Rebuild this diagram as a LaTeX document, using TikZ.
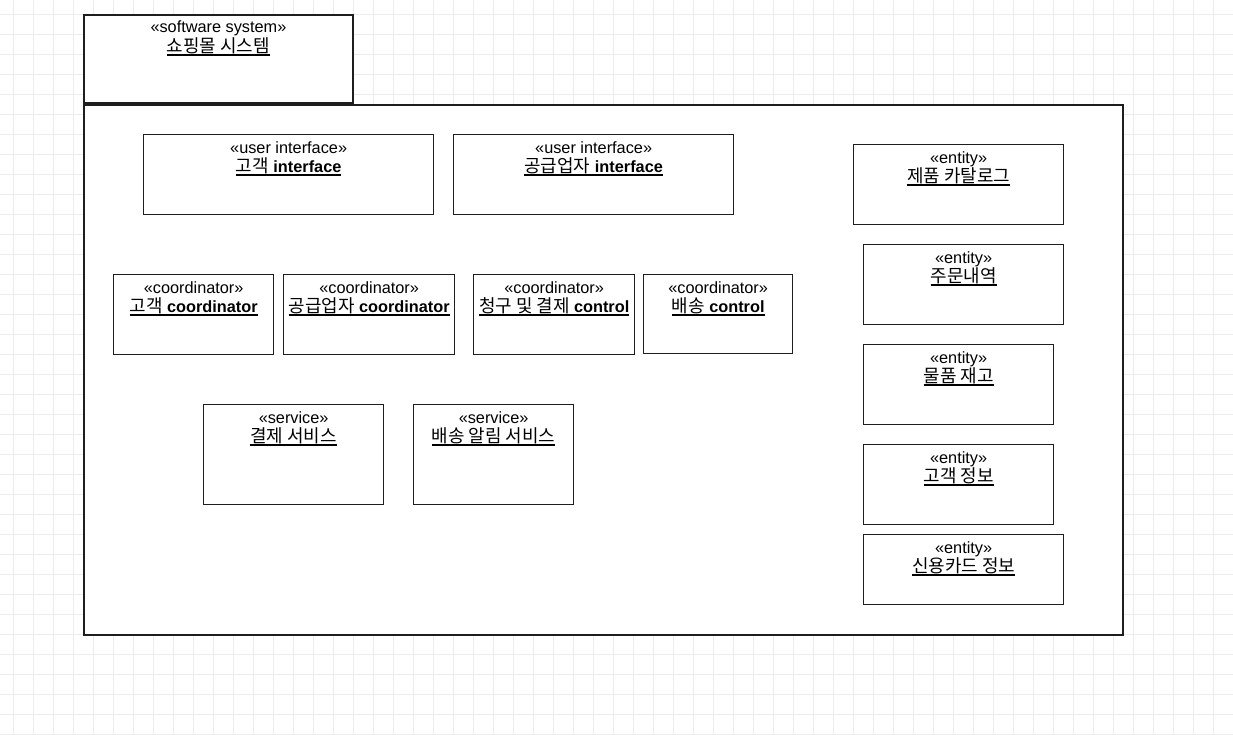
\documentclass[tikz,border=0pt]{standalone}
\usepackage{fontspec}
\setmainfont{Liberation Sans}
\newfontfamily\kr[Scale=1.1]{Noto Sans CJK KR}
\definecolor{gridgray}{RGB}{236,236,236}
\definecolor{boxline}{RGB}{30,30,30}
\newcommand{\ulname}[1]{\setbox0\hbox{#1}\rlap{\copy0}\rule[-3.5pt]{\wd0}{1.3pt}}

\begin{document}
\begin{tikzpicture}[x=1pt, y=-1pt,
  system box/.style={draw=boxline, fill=white, line width=1.9pt, anchor=north west, inner sep=0pt},
  part box/.style={draw=boxline, fill=white, line width=1.3pt, anchor=north west, inner sep=0pt, minimum height=80pt},
  stereo text/.style={anchor=base, inner sep=0pt, font=\fontsize{16.3}{18}\selectfont},
  title text/.style={anchor=base, inner sep=0pt, font=\fontsize{16.3}{18}\selectfont}]
\useasboundingbox (0,0) rectangle (1233,734);

% grid
\foreach \gx in {13,33,...,1233} {\draw[gridgray, line width=1pt] (\gx,0) -- (\gx,734);}
\foreach \gy in {14,34,...,734} {\draw[gridgray, line width=1pt] (0,\gy) -- (1233,\gy);}

% software system
\node[system box, minimum width=269pt, minimum height=88pt] (systab) at (83,14) {};
\node[stereo text] (systab s) at ([yshift=-18.5pt]systab.north) {«software system»};
\node[title text] (systab t) at ([yshift=-38pt]systab.north) {\ulname{\kr 쇼핑몰 시스템}};

\node[system box, minimum width=1039pt, minimum height=530pt] (sys) at (83,104) {};

% user interfaces
\node[part box, minimum width=290pt] (custui) at (143,134) {};
\node[stereo text] (custui s) at ([yshift=-19.5pt]custui.north) {«user interface»};
\node[title text] (custui t) at ([yshift=-38pt]custui.north) {\ulname{{\kr 고객} \textbf{interface}}};

\node[part box, minimum width=280pt] (supui) at (453,134) {};
\node[stereo text] (supui s) at ([yshift=-19.5pt]supui.north) {«user interface»};
\node[title text] (supui t) at ([yshift=-38pt]supui.north) {\ulname{{\kr 공급업자} \textbf{interface}}};

% coordinators
\node[part box, minimum width=160pt] (custco) at (113,274) {};
\node[stereo text] (custco s) at ([yshift=-19.5pt]custco.north) {«coordinator»};
\node[title text] (custco t) at ([yshift=-38pt]custco.north) {\ulname{{\kr 고객} \textbf{coordinator}}};

\node[part box, minimum width=171pt] (supco) at (283,274) {};
\node[stereo text] (supco s) at ([yshift=-19.5pt]supco.north) {«coordinator»};
\node[title text] (supco t) at ([yshift=-38pt]supco.north) {\ulname{{\kr 공급업자} \textbf{coordinator}}};

\node[part box, minimum width=161pt] (billing) at (473,274) {};
\node[stereo text] (billing s) at ([yshift=-19.5pt]billing.north) {«coordinator»};
\node[title text] (billing t) at ([yshift=-38pt]billing.north) {\ulname{{\kr 청구 및 결제} \textbf{control}}};

\node[part box, minimum width=149pt, minimum height=79pt] (delivery) at (643,274) {};
\node[stereo text] (delivery s) at ([yshift=-19.5pt]delivery.north) {«coordinator»};
\node[title text] (delivery t) at ([yshift=-38pt]delivery.north) {\ulname{{\kr 배송} \textbf{control}}};

% services
\node[part box, minimum width=180pt, minimum height=100pt] (payment) at (203,404) {};
\node[stereo text] (payment s) at ([yshift=-19.5pt]payment.north) {«service»};
\node[title text] (payment t) at ([yshift=-38pt]payment.north) {\ulname{\kr 결제 서비스}};

\node[part box, minimum width=160pt, minimum height=100pt] (notify) at (413,404) {};
\node[stereo text] (notify s) at ([yshift=-19.5pt]notify.north) {«service»};
\node[title text] (notify t) at ([yshift=-38pt]notify.north) {\ulname{\kr 배송 알림 서비스}};

% entities
\node[part box, minimum width=210pt] (catalog) at (853,144) {};
\node[stereo text] (catalog s) at ([yshift=-19.5pt]catalog.north) {«entity»};
\node[title text] (catalog t) at ([yshift=-38pt]catalog.north) {\ulname{\kr 제품 카탈로그}};

\node[part box, minimum width=200pt] (orders) at (863,244) {};
\node[stereo text] (orders s) at ([yshift=-19.5pt]orders.north) {«entity»};
\node[title text] (orders t) at ([yshift=-38pt]orders.north) {\ulname{\kr 주문내역}};

\node[part box, minimum width=190pt] (stock) at (863,344) {};
\node[stereo text] (stock s) at ([yshift=-19.5pt]stock.north) {«entity»};
\node[title text] (stock t) at ([yshift=-38pt]stock.north) {\ulname{\kr 물품 재고}};

\node[part box, minimum width=190pt] (custinfo) at (863,444) {};
\node[stereo text] (custinfo s) at ([yshift=-19.5pt]custinfo.north) {«entity»};
\node[title text] (custinfo t) at ([yshift=-38pt]custinfo.north) {\ulname{\kr 고객 정보}};

\node[part box, minimum width=200pt, minimum height=70pt] (card) at (863,534) {};
\node[stereo text] (card s) at ([yshift=-19.5pt]card.north) {«entity»};
\node[title text] (card t) at ([yshift=-38pt]card.north) {\ulname{\kr 신용카드 정보}};

\end{tikzpicture}
\end{document}
